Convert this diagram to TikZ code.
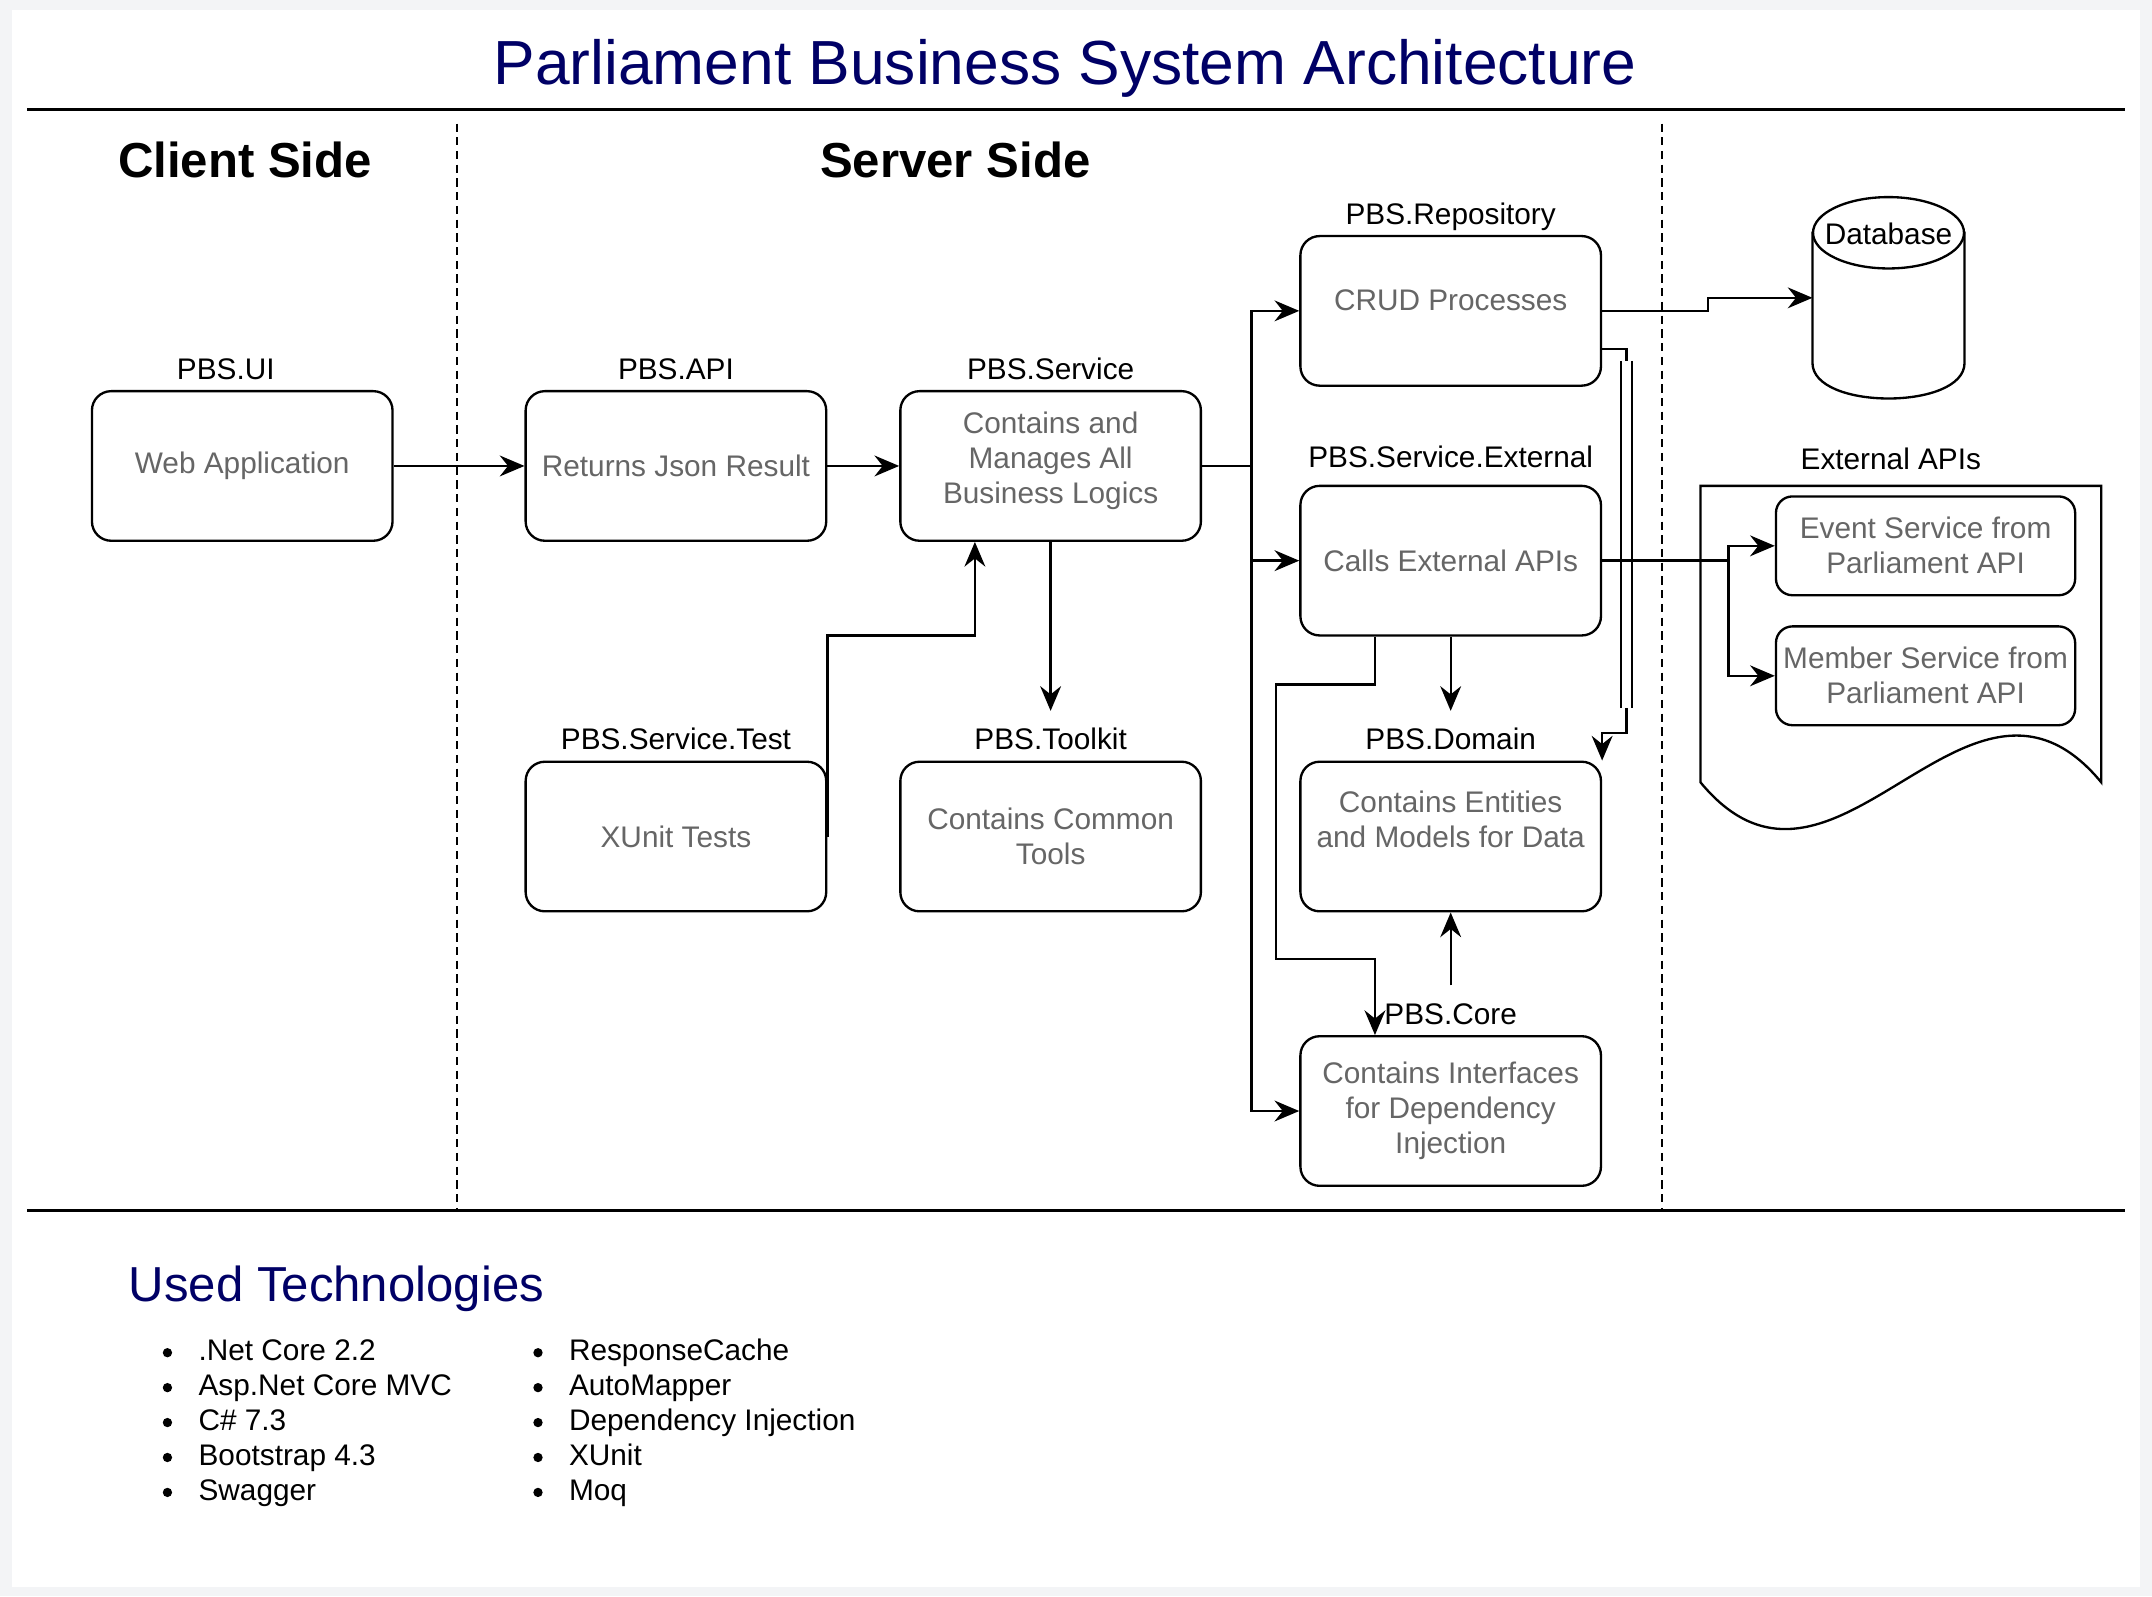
\documentclass[tikz,border=0pt]{standalone}
\usepackage{fontspec}
\setmainfont{Liberation Sans}
\usetikzlibrary{calc, positioning, arrows.meta}
\definecolor{pbsnavy}{RGB}{0,0,102}
\definecolor{pbsgrey}{RGB}{102,102,102}
\definecolor{pbspage}{RGB}{243,244,246}
\newcommand{\pbsfont}{\fontsize{10.85pt}{12.75pt}\selectfont}
\newcommand{\pbstitlefont}{\fontsize{22.7pt}{27pt}\selectfont}
\newcommand{\pbsheadfont}{\fontsize{17.9pt}{21pt}\selectfont}
\tikzset{
    modbox/.style={draw=black, line width=0.85pt, rounded corners=7pt, fill=white, minimum width=109.5pt, minimum height=54.5pt, align=center, text=pbsgrey, font=\pbsfont, inner xsep=2pt},
    apibox/.style={modbox, minimum width=109pt, minimum height=36pt, rounded corners=6pt},
    tag/.style={font=\pbsfont, inner sep=0pt, text height=14pt, text depth=2.3pt},
    wire/.style={line width=0.85pt},
    flow/.style={-{Stealth[length=9pt, width=7.6pt, inset=3pt]}, line width=0.85pt},
    rule/.style={line width=1.2pt},
    divider/.style={line width=0.8pt, dash pattern=on 3pt off 2pt},
    bullet/.style={circle, fill=black, inner sep=0pt, minimum size=3.4pt},
    techitem/.style={font=\pbsfont, anchor=base west, inner sep=0pt}
}
\begin{document}
\begin{tikzpicture}[x=0.5pt,y=-0.5pt]
    % page and frame
    \fill[pbspage] (0,0) rectangle (1568,1163);
    \fill[white] (9,7) rectangle (1559,1156);
    \useasboundingbox (0,0) rectangle (1568,1163);
    \node[font=\pbstitlefont, text=pbsnavy, anchor=base, inner sep=0pt] (title) at (776,61.5) {Parliament Business System Architecture};
    \draw[rule] (20,80) -- (1548,80);
    \draw[rule] (20,882) -- (1548,882);
    \draw[divider] (333,90) -- (333,882);
    \draw[divider] (1211,90) -- (1211,882);
    \node[font=\pbsheadfont\bfseries, anchor=base, inner sep=0pt] (client) at (178.5,129.5) {Client Side};
    \node[font=\pbsheadfont\bfseries, anchor=base, inner sep=0pt] (server) at (696,129.5) {Server Side};

    % projects
    \node[modbox] (ui) at (176.5,339.5) {Web Application};
    \node[modbox] (api) at (492.5,339.5) {Returns Json Result};
    \node[modbox, text depth=6.3pt] (svc) at (765.5,339.5) {Contains and\\Manages All\\Business Logics};
    \node[modbox] (test) at (492.5,609.5) {XUnit Tests};
    \node[modbox] (tool) at (765.5,609.5) {Contains Common\\Tools};
    \node[modbox, text depth=7.8pt] (repo) at (1057,226.5) {CRUD Processes};
    \node[modbox] (ext) at (1057,408.5) {Calls External APIs};
    \node[modbox] (dom) at (1057,609.5) {Contains Entities\\and Models for Data\\\mbox{}};
    \node[modbox] (core) at (1057,809.5) {Contains Interfaces\\for Dependency\\Injection};

    \node[tag, above=1.4pt of ui, xshift=-6pt] (uitag) {PBS.UI};
    \node[tag, above=1.4pt of api] (apitag) {PBS.API};
    \node[tag, above=1.4pt of svc] (svctag) {PBS.Service};
    \node[tag, above=1.4pt of test] (testtag) {PBS.Service.Test};
    \node[tag, above=1.4pt of tool] (tooltag) {PBS.Toolkit};
    \node[tag, above=1.4pt of repo] (repotag) {PBS.Repository};
    \node[tag, above=3.6pt of ext] (exttag) {PBS.Service.External};
    \node[tag, above=1.4pt of dom] (domtag) {PBS.Domain};
    \node[tag, above=1.4pt of core] (coretag) {PBS.Core};

    % database
    \node[inner sep=0pt, minimum width=55pt, minimum height=73pt] (db) at (1376,217) {};
    \draw[wire, fill=white] ([yshift=-13pt]db.north west) -- ([yshift=13pt]db.south west) .. controls +(0,-17.3pt) and +(0,-17.3pt) .. ([yshift=13pt]db.south east) -- ([yshift=-13pt]db.north east) -- cycle;
    \draw[wire, fill=white] ([yshift=-13pt]db.north) ellipse [x radius=27.5pt, y radius=13pt];
    \node[font=\pbsfont, anchor=base, inner sep=0pt] (dbtag) at (1376,178.5) {Database};

    % external apis
    \draw[wire, fill=white] (1239,570) -- (1239,354) -- (1531,354) -- (1531,570) .. controls (1433.7,452) and (1336.3,688) .. (1239,570) -- cycle;
    \node[font=\pbsfont, anchor=base, inner sep=0pt] (extapis) at (1377.7,342.2) {External APIs};
    \node[apibox] (event) at (1403,397.7) {Event Service from\\Parliament API};
    \node[apibox] (member) at (1403,492.4) {Member Service from\\Parliament API};

    % connectors
    \draw[flow] (ui) -- (api);
    \draw[flow] (api) -- (svc);
    \draw[flow] (svc.east) -- ++(36,0) |- (repo.west);
    \draw[flow] (svc.east) -- ++(36,0) |- (ext.west);
    \draw[flow] (svc.east) -- ++(36,0) |- (core.west);
    \draw[flow] (svc) -- (tooltag);
    \draw[flow] (test.east) -- ++(0,-146.5) -| ($(svc.south west)!0.25!(svc.south east)$);
    \draw[flow] ($(ext.south west)!0.25!(ext.south east)$) -- ++(0,35) -| ++(-72,200) -| ($(core.north west)!0.25!(core.north east)$);
    \draw[flow] (ext) -- (domtag);
    \draw[flow] (coretag) -- (dom);
    \draw[flow] (repo.east) -- ++(77,0) |- (db.west);
    \draw[flow] ($(repo.north east)!0.75!(repo.south east)$) -| (1185,534) -| (dom.north east);
    \fill[white] (1181,263) rectangle (1189,516);
    \draw[wire] (1181,263) -- (1181,516) (1189,263) -- (1189,516);
    \draw[flow] (ext.east) -- ++(92,0) |- (event.west);
    \draw[flow] (ext.east) -- ++(92,0) |- (member.west);

    % used technologies
    \node[font=\pbsheadfont, text=pbsnavy, anchor=base west, inner sep=0pt] (usedtech) at (93.5,948.5) {Used Technologies};
    \foreach \tech [count=\i] in {.Net Core 2.2, Asp.Net Core MVC, C\# 7.3, Bootstrap 4.3, Swagger} {
        \node[bullet] (dota\i) at (122,{960.15+25.45*\i}) {};
        \node[techitem] (techa\i) at (144.3,{966.05+25.45*\i}) {\tech};
    }
    \foreach \tech [count=\i] in {ResponseCache, AutoMapper, Dependency Injection, XUnit, Moq} {
        \node[bullet] (dotb\i) at (392,{960.15+25.45*\i}) {};
        \node[techitem] (techb\i) at (414.2,{966.05+25.45*\i}) {\tech};
    }
\end{tikzpicture}
\end{document}
